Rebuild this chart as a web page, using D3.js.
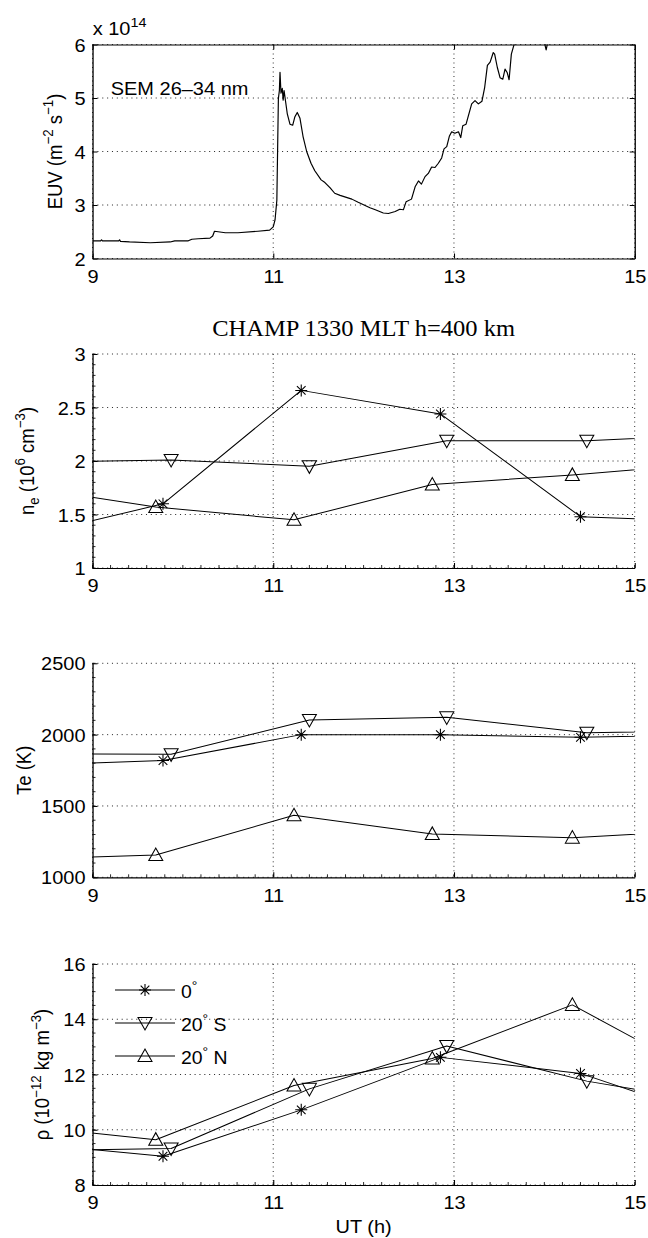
<!DOCTYPE html>
<html>
<head>
<meta charset="utf-8">
<script src="https://cdn.jsdelivr.net/npm/d3@7"></script>
<style>
  html, body { margin: 0; padding: 0; background: #fff; }
  svg { display: block; }
  .grid { stroke: #222; stroke-width: 0.9; stroke-dasharray: 1 3.5; fill: none; }
  .tick text, .lbl { font-family: "Liberation Sans", Arial, Helvetica, sans-serif; fill: #000; }
</style>
</head>
<body>
<div id="chart"></div>
<script>
// ---------- data ----------
// SEM 26-34 nm EUV flux, units of 10^14 m^-2 s^-1, versus UT (h)
const euvTime = [9.00, 9.09, 9.10, 9.11, 9.29, 9.30, 9.31, 9.41, 9.64, 9.86, 9.91, 10.06, 10.10, 10.17,
  10.30, 10.33, 10.35, 10.39, 10.47, 10.61, 10.83, 10.96, 11.00, 11.02, 11.04, 11.05, 11.057, 11.068,
  11.075, 11.086, 11.10, 11.11, 11.12, 11.137, 11.155, 11.185, 11.215, 11.24, 11.266, 11.296, 11.33,
  11.37, 11.418, 11.46, 11.53, 11.572, 11.63, 11.68, 11.74, 11.87, 11.94, 12.07, 12.13, 12.218, 12.274,
  12.35, 12.40, 12.44, 12.47, 12.53, 12.57, 12.607, 12.64, 12.68, 12.716, 12.753, 12.79, 12.827, 12.864,
  12.89, 12.92, 12.95, 12.975, 13.01, 13.05, 13.075, 13.097, 13.134, 13.16, 13.196, 13.233, 13.27, 13.31,
  13.34, 13.37, 13.40, 13.435, 13.45, 13.48, 13.51, 13.54, 13.565, 13.59, 13.61, 13.635, 13.66, 13.72,
  13.90, 14.00, 14.02, 14.04, 14.20, 15.00];
const euvFlux = [2.33, 2.33, 2.35, 2.33, 2.33, 2.35, 2.32, 2.31, 2.295, 2.31, 2.33, 2.33, 2.36, 2.37,
  2.38, 2.42, 2.51, 2.50, 2.48, 2.48, 2.51, 2.53, 2.59, 2.72, 3.09, 4.21, 4.99, 5.14,
  5.48, 5.09, 5.18, 4.96, 5.14, 4.93, 4.71, 4.51, 4.49, 4.65, 4.73, 4.62, 4.28,
  4.00, 3.78, 3.64, 3.47, 3.42, 3.32, 3.22, 3.18, 3.11, 3.05, 2.95, 2.91, 2.85, 2.84,
  2.88, 2.92, 2.91, 3.06, 3.11, 3.34, 3.45, 3.39, 3.53, 3.59, 3.71, 3.70, 3.78, 3.88,
  4.05, 4.09, 4.29, 4.37, 4.34, 4.37, 4.26, 4.48, 4.51, 4.67, 4.89, 4.95, 4.89, 4.94,
  5.20, 5.61, 5.67, 5.85, 5.82, 5.57, 5.38, 5.35, 5.54, 5.47, 5.34, 5.82, 5.97, 6.30,
  6.25, 6.04, 5.90, 6.06, 6.35, 6.60];

// CHAMP passes (UT, h) for the three latitudes
const timeEq = [8.25, 9.78, 11.31, 12.85, 14.40, 15.95];
const timeS  = [8.33, 9.87, 11.40, 12.92, 14.47, 16.01];
const timeN  = [8.16, 9.70, 11.23, 12.76, 14.31, 15.86];

// electron density, 10^6 cm^-3
const neEq = [1.29, 1.60, 2.66, 2.44, 1.48, 1.43];
const neS  = [1.99, 2.01, 1.95, 2.19, 2.19, 2.25];
const neN  = [1.77, 1.57, 1.45, 1.78, 1.87, 1.98];

// electron temperature, K
const teEq = [1785, 1818, 2000, 2000, 1981, 1999];
const teS  = [1866, 1862, 2103, 2121, 2014, 2028];
const teN  = [1127, 1156, 1435, 1304, 1278, 1330];

// neutral mass density, 10^-12 kg m^-3
const rhoEq = [9.51, 9.04, 10.72, 12.62, 12.04, 10.34];
const rhoS  = [9.25, 9.32, 11.48, 13.03, 11.76, 10.91];
const rhoN  = [10.17, 9.64, 11.60, 12.58, 14.52, 11.78];

const xTicks = [9, 11, 13, 15];
const euvTicks = [2, 3, 4, 5, 6];
const neTicks = [1, 1.5, 2, 2.5, 3];
const teTicks = [1000, 1500, 2000, 2500];
const rhoTicks = [8, 10, 12, 14, 16];

// ---------- layout ----------
const W = 648, H = 1238;
const K = 1.08;                 // horizontal stretch of the figure
const VW = W / K;
const X0 = 92.5 / K, X1 = 634.7 / K;
const FS = 18.5;

const svg = d3.select("#chart").append("svg")
  .attr("width", W).attr("height", H)
  .attr("viewBox", `0 0 ${VW} ${H}`)
  .attr("preserveAspectRatio", "none");

const x = d3.scaleLinear().domain([9, 15]).range([X0, X1]);

// text with super/subscripts: parts = [[string, mode]] mode 1 = sup, -1 = sub
function rich(sel, parts, base) {
  let shift = 0;
  parts.forEach(([s, m]) => {
    const target = m === 1 ? -0.42 * base : (m === -1 ? 0.28 * base : 0);
    const ts = sel.append("tspan").attr("dy", target - shift).text(s);
    if (m !== 0) ts.attr("font-size", base * 0.72);
    shift = target;
  });
}

// marker shapes (viewBox units)
const sx = 6 / K, sy = 6;
const markers = {
  star: `M${-sx},0H${sx}M0,${-sy}V${sy}M${-sx * 0.72},${-sy * 0.72}L${sx * 0.72},${sy * 0.72}M${-sx * 0.72},${sy * 0.72}L${sx * 0.72},${-sy * 0.72}`,
  down: `M${-7 / K},-5.5L${7 / K},-5.5L0,7Z`,
  up: `M${-7 / K},5.5L${7 / K},5.5L0,-7Z`
};

let clipId = 0;
function panel(cfg) {
  const g = svg.append("g");
  const y = d3.scaleLinear().domain(cfg.domain).range([cfg.bottom, cfg.top]);

  // dotted grid
  g.append("g").selectAll("line").data(xTicks).join("line")
    .attr("class", "grid").attr("x1", d => x(d)).attr("x2", d => x(d))
    .attr("y1", cfg.top).attr("y2", cfg.bottom);
  g.append("g").selectAll("line").data(cfg.ticks).join("line")
    .attr("class", "grid").attr("y1", d => y(d)).attr("y2", d => y(d))
    .attr("x1", X0).attr("x2", X1);

  // minor ticks
  if (cfg.minorY) {
    const my = d3.range(cfg.domain[0], cfg.domain[1] + 1e-9, cfg.minorY);
    g.append("g").selectAll("line").data(my).join("line")
      .attr("x1", X0).attr("x2", X0 + 3 / K).attr("y1", d => y(d)).attr("y2", d => y(d))
      .attr("stroke", "#000").attr("stroke-width", 0.8);
    const mx = d3.range(9, 15 + 1e-9, 0.2);
    g.append("g").selectAll("line").data(mx).join("line")
      .attr("x1", d => x(d)).attr("x2", d => x(d)).attr("y1", cfg.bottom).attr("y2", cfg.bottom - 3)
      .attr("stroke", "#000").attr("stroke-width", 0.8);
  }

  // axes
  const ax = g.append("g").attr("transform", `translate(0,${cfg.bottom})`)
    .call(d3.axisBottom(x).tickValues(xTicks).tickFormat(d3.format("d"))
      .tickSizeInner(-5).tickSizeOuter(0).tickPadding(0));
  ax.selectAll("text").attr("dy", null).attr("y", 24.5).attr("font-size", FS);
  const ay = g.append("g").attr("transform", `translate(${X0},0)`)
    .call(d3.axisLeft(y).tickValues(cfg.ticks).tickFormat(d => String(d))
      .tickSizeInner(-5 / K).tickSizeOuter(0).tickPadding(7 / K));
  ay.selectAll("text").attr("dy", "0.36em").attr("font-size", FS);
  [ax, ay].forEach(a => {
    a.select(".domain").attr("stroke", "#000").attr("stroke-width", 1.2);
    a.selectAll(".tick line").attr("stroke", "#000").attr("stroke-width", 1);
    a.attr("font-family", null);
  });

  if (cfg.box) {
    g.append("g").attr("transform", `translate(0,${cfg.top})`)
      .call(d3.axisTop(x).tickValues(xTicks).tickFormat("").tickSizeInner(-5).tickSizeOuter(0))
      .call(a => { a.select(".domain").attr("stroke", "#000").attr("stroke-width", 1.2); a.selectAll(".tick line").attr("stroke", "#000"); });
    g.append("g").attr("transform", `translate(${X1},0)`)
      .call(d3.axisRight(y).tickValues(cfg.ticks).tickFormat("").tickSizeInner(-5 / K).tickSizeOuter(0))
      .call(a => { a.select(".domain").attr("stroke", "#000").attr("stroke-width", 1.2); a.selectAll(".tick line").attr("stroke", "#000"); });
  }

  // clip for the data
  const id = "clip" + (clipId++);
  svg.append("clipPath").attr("id", id).append("rect")
    .attr("x", X0).attr("y", cfg.top).attr("width", X1 - X0).attr("height", cfg.bottom - cfg.top);
  const dg = g.append("g");
  const line = d3.line().x(d => x(d[0])).y(d => y(d[1]));

  cfg.series.forEach(s => {
    const pts = s.t.map((t, i) => [t, s.v[i]]);
    dg.append("path").attr("clip-path", `url(#${id})`)
      .attr("d", line(pts)).attr("fill", "none").attr("stroke", "#000")
      .attr("stroke-width", s.width || 1).attr("stroke-linejoin", "round");
    if (s.marker) {
      dg.append("g").selectAll("path").data(pts.filter(p => p[0] >= 9 && p[0] <= 15)).join("path")
        .attr("transform", d => `translate(${x(d[0])},${y(d[1])})`)
        .attr("d", markers[s.marker]).attr("fill", "none").attr("stroke", "#000").attr("stroke-width", 1);
    }
  });

  // y label
  const yl = g.append("text").attr("class", "lbl")
    .attr("transform", `translate(${cfg.ylabelX / K},${(cfg.top + cfg.bottom) / 2}) rotate(-90)`)
    .attr("text-anchor", "middle").attr("font-size", FS);
  rich(yl, cfg.ylabel, FS);
  return { g, y };
}

// ---------- panel 1: EUV ----------
const p1 = panel({
  top: 44.5, bottom: 258.5, domain: [2, 6], ticks: euvTicks, box: true,
  series: [{ t: euvTime, v: euvFlux, width: 1.1 }],
  ylabelX: 61.5,
  ylabel: [["EUV (m", 0], ["\u22122", 1], [" s", 0], ["\u22121", 1], [")", 0]]
});
const mult = svg.append("text").attr("class", "lbl").attr("x", 92.7 / K).attr("y", 35).attr("font-size", FS);
rich(mult, [["x 10", 0], ["14", 1]], FS);
svg.append("text").attr("class", "lbl").attr("x", 110.7 / K).attr("y", 95).attr("font-size", FS)
  .text("SEM 26\u201334 nm");

// ---------- panel 2: ne ----------
svg.append("text").attr("x", (X0 + X1) / 2).attr("y", 336.5).attr("text-anchor", "middle")
  .attr("font-family", "'Liberation Serif', 'Times New Roman', Times, serif").attr("font-size", 22.7)
  .text("CHAMP 1330 MLT h=400 km");
panel({
  top: 354, bottom: 568, domain: [1, 3], ticks: neTicks, minorY: 0.1,
  series: [
    { t: timeEq, v: neEq, marker: "star" },
    { t: timeS, v: neS, marker: "down" },
    { t: timeN, v: neN, marker: "up" }
  ],
  ylabelX: 33.5,
  ylabel: [["n", 0], ["e", -1], [" (10", 0], ["6", 1], [" cm", 0], ["\u22123", 1], [")", 0]]
});

// ---------- panel 3: Te ----------
panel({
  top: 663.3, bottom: 877.3, domain: [1000, 2500], ticks: teTicks, minorY: 100,
  series: [
    { t: timeEq, v: teEq, marker: "star" },
    { t: timeS, v: teS, marker: "down" },
    { t: timeN, v: teN, marker: "up" }
  ],
  ylabelX: 31,
  ylabel: [["Te (K)", 0]]
});

// ---------- panel 4: rho ----------
panel({
  top: 964, bottom: 1185, domain: [8, 16], ticks: rhoTicks, minorY: 0.5,
  series: [
    { t: timeEq, v: rhoEq, marker: "star" },
    { t: timeS, v: rhoS, marker: "down" },
    { t: timeN, v: rhoN, marker: "up" }
  ],
  ylabelX: 49,
  ylabel: [["\u03c1 (10", 0], ["\u221212", 1], [" kg m", 0], ["\u22123", 1], [")", 0]]
});
svg.append("text").attr("class", "lbl").attr("x", (X0 + X1) / 2).attr("y", 1233)
  .attr("text-anchor", "middle").attr("font-size", FS).text("UT (h)");

// legend
const legendRows = [
  { marker: "star", label: [["0", 0], ["\u00b0", 1]] },
  { marker: "down", label: [["20", 0], ["\u00b0", 1], [" S", 0]] },
  { marker: "up", label: [["20", 0], ["\u00b0", 1], [" N", 0]] }
];
const legendY = [990, 1023, 1056];
const lg = svg.append("g");
legendRows.forEach((r, i) => {
  const yy = legendY[i];
  lg.append("line").attr("x1", 115 / K).attr("x2", 175 / K).attr("y1", yy).attr("y2", yy)
    .attr("stroke", "#000").attr("stroke-width", 1);
  lg.append("path").attr("transform", `translate(${145 / K},${yy})`).attr("d", markers[r.marker])
    .attr("fill", "none").attr("stroke", "#000").attr("stroke-width", 1);
  const t = lg.append("text").attr("class", "lbl").attr("x", 181 / K).attr("y", yy + 8).attr("font-size", 18);
  rich(t, r.label, 18);
});
</script>
</body>
</html>
